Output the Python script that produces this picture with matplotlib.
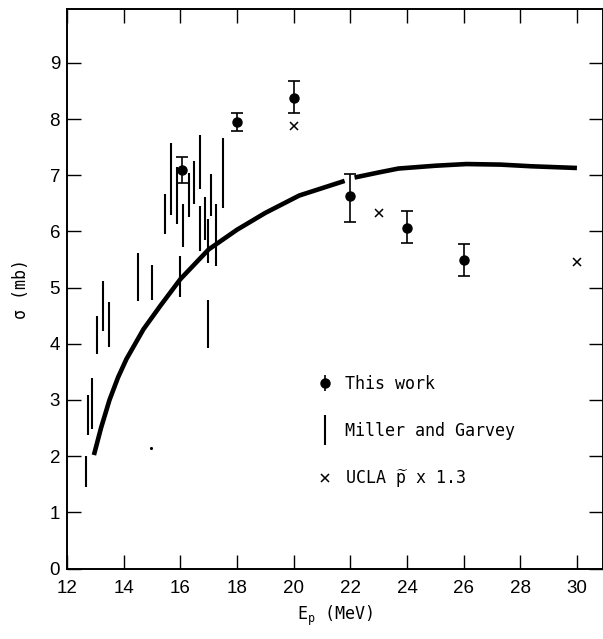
import matplotlib
matplotlib.use('Agg')
import matplotlib.pyplot as plt
from matplotlib.lines import Line2D
import numpy as np

# "This work" points with asymmetric error bars
tw_x = [16.05, 18.0, 20.0, 22.0, 24.0, 26.0]
tw_y = [7.10, 7.94, 8.37, 6.64, 6.07, 5.49]
tw_lo = [6.86, 7.78, 8.10, 6.17, 5.79, 5.20]
tw_hi = [7.32, 8.10, 8.67, 7.02, 6.36, 5.78]

# Miller and Garvey: vertical bars (energy, low, high)
mg_x = [12.67, 12.74, 12.89, 13.06, 13.27, 13.49, 14.49, 15.01, 15.45, 15.68,
        15.88, 16.00, 16.09, 16.29, 16.50, 16.69, 16.68, 16.87, 16.99, 17.10,
        16.99, 17.26, 17.49]
mg_lo = [1.45, 2.37, 2.48, 3.82, 4.23, 3.95, 4.76, 4.78, 5.96, 6.30,
         6.13, 4.83, 5.72, 6.25, 6.49, 6.75, 5.65, 5.85, 5.44, 6.27,
         3.93, 5.39, 6.41]
mg_hi = [2.00, 3.09, 3.40, 4.50, 5.11, 4.75, 5.61, 5.41, 6.67, 7.57,
         7.15, 5.56, 6.49, 7.04, 7.26, 7.72, 6.45, 6.61, 6.23, 7.03,
         4.78, 6.49, 7.66]

# UCLA p~ x 1.3
ucla_x = [20.0, 23.0, 30.0]
ucla_y = [7.88, 6.32, 5.45]

# calculated curve (gap near 22 MeV where it meets the error bar)
curve_x = [12.95, 13.2, 13.5, 13.8, 14.1, 14.7, 15.3, 16.0, 17.0, 18.0, 19.0,
           20.2, 21.8, np.nan, 22.15, 23.0, 23.7, 25.0, 26.1, 27.3, 28.4, 30.0]
curve_y = [2.02, 2.50, 3.00, 3.40, 3.73, 4.26, 4.68, 5.15, 5.68, 6.03, 6.33,
           6.64, 6.90, np.nan, 6.96, 7.05, 7.12, 7.17, 7.20, 7.19, 7.16, 7.13]

# small stray speck in the scan
speck_x = [14.98]
speck_y = [2.15]

xticks = [12, 14, 16, 18, 20, 22, 24, 26, 28, 30]
yticks = [0, 1, 2, 3, 4, 5, 6, 7, 8, 9]

plt.rcParams['mathtext.fontset'] = 'custom'
plt.rcParams['mathtext.rm'] = 'DejaVu Sans Mono'
mono = 'DejaVu Sans Mono'

fig = plt.figure(figsize=(6.03, 6.39), dpi=100)
ax = fig.add_axes([67 / 603, 70.5 / 639, 536 / 603, 559.5 / 639])

ax.plot(curve_x, curve_y, color='black', lw=3.3, solid_capstyle='butt')

ax.vlines(mg_x, mg_lo, mg_hi, color='black', lw=1.5)

yerr = [np.array(tw_y) - np.array(tw_lo), np.array(tw_hi) - np.array(tw_y)]
ax.errorbar(tw_x, tw_y, yerr=yerr, fmt='o', color='black', ms=6.5,
            capsize=4.5, elinewidth=1.2, capthick=1.2)

ax.plot(ucla_x, ucla_y, 'x', color='black', ms=6, mew=1.1)
ax.plot(speck_x, speck_y, '.', color='black', ms=2.5)

ax.set_xlim(12, 30.92)
ax.set_ylim(0, 9.96)
ax.set_xticks(xticks)
ax.set_yticks(yticks)
ax.tick_params(direction='in', length=10, width=1.0, top=True, right=True,
               labelsize=13.5, color='black')
ax.tick_params(axis='x', pad=8)
ax.tick_params(axis='y', pad=5)
for lab in ax.get_xticklabels() + ax.get_yticklabels():
    lab.set_family('Liberation Sans')
for sp in ax.spines.values():
    sp.set_linewidth(1.4)

ax.set_xlabel('E$_\\mathrm{p}$ (MeV)', fontsize=12, family=mono, labelpad=5)
ax.set_ylabel('σ (mb)', fontsize=12, family=mono, labelpad=14)

# legend
h_tw = ax.errorbar([], [], yerr=[], fmt='o', color='black', ms=6.5,
                   capsize=4.5, elinewidth=1.2, capthick=1.2)
h_mg = Line2D([], [], ls='none', marker='|', ms=22, mew=1.5, color='black')
h_ucla = Line2D([], [], ls='none', marker='x', ms=6, mew=1.1, color='black')
ax.legend([h_tw, h_mg, h_ucla],
          ['This work', 'Miller and Garvey', 'UCLA $\\widetilde{\\mathrm{p}}$ x 1.3'],
          loc='upper left', bbox_to_anchor=(0.465, 0.346), frameon=False,
          prop={'family': mono, 'size': 12}, handlelength=1.0,
          handletextpad=0.7, labelspacing=1.72, borderpad=0, borderaxespad=0)

fig.savefig('out.png', dpi=100)
